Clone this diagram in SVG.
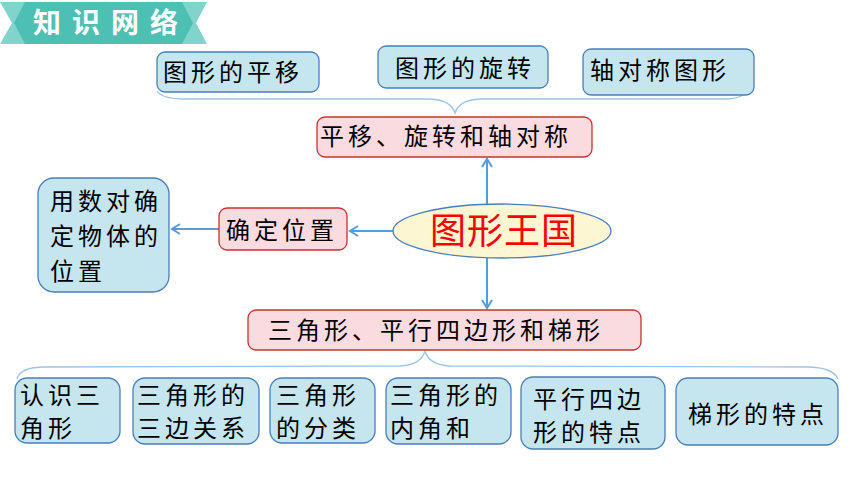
<svg xmlns="http://www.w3.org/2000/svg" width="860" height="484" viewBox="0 0 860 484">
<defs>
<style>
.t{font-family:"Noto Sans CJK SC","Liberation Sans",sans-serif;font-size:24px;letter-spacing:4px;fill:#000}
.blue{fill:#c5e6ef;stroke:#4a7ebb;stroke-width:1.3}
.pink{fill:#fadbe0;stroke:#c9302c;stroke-width:1.3}
.conn{fill:none;stroke:#5b9bd5;stroke-width:2}
.brace{fill:none;stroke:#9dc3e6;stroke-width:1.3}
</style>
<marker id="ah" viewBox="0 0 12 12" refX="10" refY="6" markerWidth="12" markerHeight="12" markerUnits="userSpaceOnUse" orient="auto">
<path d="M2,1 L10,6 L2,11" fill="none" stroke="#5b9bd5" stroke-width="2"/>
</marker>
</defs>
<rect width="860" height="484" fill="#fff"/>
<g id="title">
<polygon points="0,2 207,2 196,23 207,44 0,44 12,23" fill="#80d4cc"/>
<polygon points="25,2 182,2 193,23 182,44 25,44 14,23" fill="#4dbfb3"/>
<text x="33" y="33" style="font-family:'Noto Sans CJK SC',sans-serif;font-size:28px;font-weight:bold;letter-spacing:11px;fill:#fff">知识网络</text>
</g>
<g id="connectors">
<path class="brace" d="M157,91 Q162,99 185,99 L430,99 Q451,100 455,113 Q459,100 480,99 L728,99 Q742,98 746,92"/>
<path class="brace" d="M17,379 Q20,367 45,367 L400,366 Q421,365 425,351 Q429,365 450,366 L810,367 Q833,368 838,379"/>
<line class="conn" x1="487" y1="210" x2="487" y2="159" marker-end="url(#ah)"/>
<line class="conn" x1="393" y1="231" x2="350" y2="231" marker-end="url(#ah)"/>
<line class="conn" x1="219" y1="229" x2="172" y2="229" marker-end="url(#ah)"/>
<line class="conn" x1="487" y1="258" x2="487" y2="308" marker-end="url(#ah)"/>
</g>
<g id="n-pingyi"><rect class="blue" x="157" y="52" width="162" height="40" rx="8"/><text class="t" x="163" y="81">图形的平移</text></g>
<g id="n-xuanzhuan"><rect class="blue" x="378" y="46" width="170" height="42" rx="8"/><text class="t" x="395" y="77">图形的旋转</text></g>
<g id="n-zhoudui"><rect class="blue" x="583" y="49" width="171" height="46" rx="8"/><text class="t" x="590" y="79">轴对称图形</text></g>
<g id="n-bianhuan"><rect class="pink" x="317" y="117" width="275" height="40" rx="8"/><text class="t" x="320" y="145">平移、旋转和轴对称</text></g>
<g id="n-center"><ellipse cx="502" cy="231" rx="109" ry="27" fill="#fdf6d3" stroke="#4a7ebb" stroke-width="1.3"/><text x="430" y="244" style="font-family:'Noto Sans CJK SC',sans-serif;font-size:36px;letter-spacing:1px;fill:#ff0000">图形王国</text></g>
<g id="n-weizhi"><rect class="pink" x="219" y="208" width="128" height="42" rx="8"/><text class="t" x="226" y="239">确定位置</text></g>
<g id="n-shudui"><rect class="blue" x="38" y="178" width="131" height="114" rx="16"/><text class="t" x="50" y="210">用数对确</text><text class="t" x="50" y="245">定物体的</text><text class="t" x="50" y="280">位置</text></g>
<g id="n-sanjiao"><rect class="pink" x="248" y="310" width="393" height="40" rx="8"/><text class="t" x="268" y="339">三角形、平行四边形和梯形</text></g>
<g id="n-b1"><rect class="blue" x="15" y="378" width="105" height="65" rx="12"/><text class="t" x="20" y="404">认识三</text><text class="t" x="20" y="437">角形</text></g>
<g id="n-b2"><rect class="blue" x="133" y="378" width="126" height="66" rx="12"/><text class="t" x="137" y="404">三角形的</text><text class="t" x="137" y="437">三边关系</text></g>
<g id="n-b3"><rect class="blue" x="270" y="378" width="105" height="65" rx="12"/><text class="t" x="276" y="404">三角形</text><text class="t" x="276" y="437">的分类</text></g>
<g id="n-b4"><rect class="blue" x="386" y="378" width="125" height="66" rx="12"/><text class="t" x="390" y="404">三角形的</text><text class="t" x="390" y="437">内角和</text></g>
<g id="n-b5"><rect class="blue" x="521" y="377" width="144" height="72" rx="12"/><text class="t" x="533" y="408">平行四边</text><text class="t" x="533" y="441">形的特点</text></g>
<g id="n-b6"><rect class="blue" x="676" y="378" width="162" height="67" rx="12"/><text class="t" x="688" y="423">梯形的特点</text></g>
</svg>
